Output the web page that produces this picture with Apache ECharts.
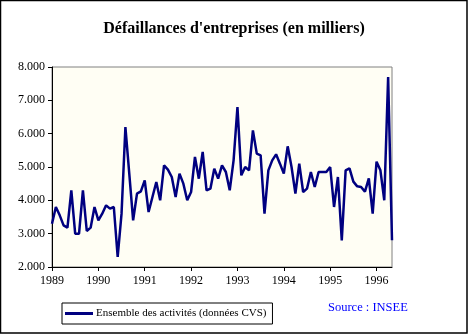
<!DOCTYPE html>
<html>
<head>
<meta charset="utf-8">
<script src="https://cdn.jsdelivr.net/npm/echarts@6/dist/echarts.min.js"></script>
<style>
  html, body { margin: 0; padding: 0; background: #ffffff; }
  #chart { width: 468px; height: 334px; }
</style>
</head>
<body>
<div id="chart"></div>
<script>
// ---- Data ----
const titleText = "Défaillances d'entreprises (en milliers)";
const seriesName = "Ensemble des activités (données CVS)";
const sourceText = "Source : INSEE";
const yearLabels = ["1989", "1990", "1991", "1992", "1993", "1994", "1995", "1996"];
const lastYearMonths = 5; // Jan–May 1996
const yTicks = [2, 3, 4, 5, 6, 7, 8];

// monthly values (thousands), Jan 1989 -> May 1996
const values = [
  3.30, 3.80, 3.55, 3.25, 3.18, 4.30, 3.00, 3.00, 4.30, 3.08, 3.18, 3.80,
  3.40, 3.60, 3.85, 3.75, 3.80, 2.30, 3.60, 6.20, 4.80, 3.40, 4.20, 4.27,
  4.60, 3.65, 4.10, 4.55, 4.00, 5.05, 4.92, 4.70, 4.10, 4.80, 4.50, 4.00,
  4.25, 5.30, 4.65, 5.45, 4.30, 4.35, 4.95, 4.65, 5.05, 4.85, 4.30, 5.20,
  6.80, 4.75, 5.00, 4.90, 6.10, 5.40, 5.35, 3.60, 4.90, 5.20, 5.38, 5.10,
  4.80, 5.62, 5.00, 4.20, 5.10, 4.25, 4.35, 4.85, 4.40, 4.85, 4.85, 4.85,
  5.00, 3.80, 4.70, 2.80, 4.90, 4.96, 4.56, 4.42, 4.40, 4.26, 4.66, 3.60,
  5.16, 4.90, 4.00, 7.70, 2.80
];

// categories: one per month
const categories = [];
yearLabels.forEach((y, yi) => {
  const n = (yi === yearLabels.length - 1) ? lastYearMonths : 12;
  for (let m = 1; m <= n; m++) categories.push(y + "-" + String(m).padStart(2, "0"));
});

const serif = "'Liberation Serif', 'Times New Roman', serif";

const chart = echarts.init(document.getElementById('chart'), null, { renderer: 'canvas' });
chart.setOption({
  animation: false,
  backgroundColor: '#ffffff',
  title: {
    text: titleText,
    left: 'center',
    top: 16,
    textStyle: { fontFamily: serif, fontWeight: 'bold', fontSize: 16, color: '#000' }
  },
  grid: {
    left: 52, top: 67, width: 340, height: 200,
    show: true, backgroundColor: '#FFFEF4', borderColor: '#808080', borderWidth: 1
  },
  legend: {
    data: [seriesName],
    left: 62, top: 303,
    orient: 'horizontal',
    borderColor: '#000', borderWidth: 1,
    padding: [5, 6, 5, 3],
    itemWidth: 28, itemHeight: 3, itemGap: 4,
    icon: 'rect',
    textStyle: { fontFamily: serif, fontSize: 11, color: '#000', padding: [0, 0, 0, -2] }
  },
  xAxis: {
    type: 'category',
    data: categories,
    boundaryGap: false,
    axisLine: { lineStyle: { color: '#000', width: 1 } },
    axisTick: { show: true, length: 4, lineStyle: { color: '#000' }, interval: (i) => i % 12 === 0 },
    axisLabel: {
      interval: (i) => i % 12 === 0,
      formatter: (v) => v.slice(0, 4),
      fontFamily: serif, fontSize: 12, color: '#000', margin: 8
    },
    splitLine: { show: false }
  },
  yAxis: {
    type: 'value',
    min: yTicks[0], max: yTicks[yTicks.length - 1], interval: 1,
    axisLine: { show: true, lineStyle: { color: '#000', width: 1 } },
    axisTick: { show: true, length: 4, lineStyle: { color: '#000' } },
    axisLabel: {
      formatter: (v) => v.toFixed(3),
      fontFamily: serif, fontSize: 12, color: '#000', margin: 7
    },
    splitLine: { show: false }
  },
  series: [{
    name: seriesName,
    type: 'line',
    data: values,
    symbol: 'none',
    smooth: false,
    color: '#000080',
    lineStyle: { color: '#000080', width: 2.5 }
  }],
  graphic: [
    {
      type: 'rect', silent: true,
      shape: { x: 0.5, y: 0.5, width: 466.5, height: 332.5 },
      style: { fill: 'none', stroke: '#000', lineWidth: 1.5 }
    },
    {
      type: 'text', left: 328, top: 301, silent: true,
      style: { text: sourceText, fill: '#0000FF', font: "12.5px 'Liberation Serif', serif" }
    }
  ]
});
</script>
</body>
</html>
